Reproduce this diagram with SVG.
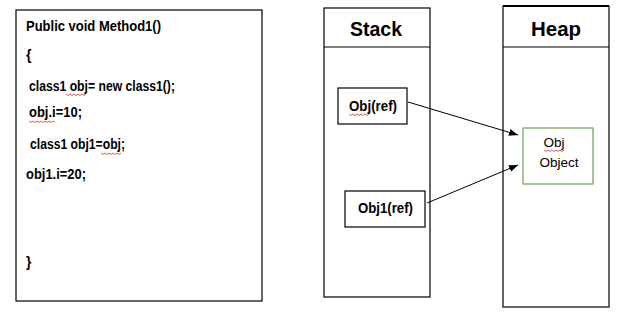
<svg xmlns="http://www.w3.org/2000/svg" width="635" height="320" viewBox="0 0 635 320">
<defs>
<style>
.box{fill:#fff;stroke:#000;stroke-width:1.2}
.code{font-family:"Liberation Sans","Open Sans",sans-serif;font-size:14px;font-weight:bold;fill:#000}
.title{font-family:"Liberation Sans","Open Sans",sans-serif;font-size:21px;font-weight:bold;fill:#000}
.plain{font-family:"Liberation Sans","Open Sans",sans-serif;font-size:13.5px;fill:#000}
.squig{fill:none;stroke:#c0392b;stroke-width:0.8}
.conn{stroke:#000;stroke-width:1;fill:none}
</style>
<marker id="arr" viewBox="0 0 10 10" refX="10" refY="5" markerWidth="9" markerHeight="9" orient="auto" markerUnits="userSpaceOnUse">
<path d="M0,1 L10,5 L0,9 z" fill="#000"/>
</marker>
</defs>
<rect width="635" height="320" fill="#fff"/>
<g id="code">
<rect class="box" x="16" y="10" width="246" height="291"/>
<text class="code" x="26" y="31" textLength="135" lengthAdjust="spacingAndGlyphs">Public void Method1()</text>
<text class="code" x="26" y="60">{</text>
<text class="code" x="29" y="91" textLength="146" lengthAdjust="spacingAndGlyphs">class1 obj= new class1();</text>
<text class="code" x="29" y="117" textLength="53" lengthAdjust="spacingAndGlyphs">obj.i=10;</text>
<text class="code" x="30" y="149" textLength="95" lengthAdjust="spacingAndGlyphs">class1 obj1=obj;</text>
<text class="code" x="26" y="179" textLength="60" lengthAdjust="spacingAndGlyphs">obj1.i=20;</text>
<text class="code" x="26" y="267">}</text>
<path class="squig" d="M66,94 l2,1.5 l2,-1.5 l2,1.5 l2,-1.5 l2,1.5 l2,-1.5 l2,1.5 l2,-1.5 l2,1.5 l2,-1.5"/>
<path class="squig" d="M29,121 l2,1.5 l2,-1.5 l2,1.5 l2,-1.5 l2,1.5 l2,-1.5 l2,1.5 l2,-1.5 l2,1.5 l2,-1.5 l2,1.5 l2,-1.5 l2,1.5"/>
<path class="squig" d="M101,153 l2,1.5 l2,-1.5 l2,1.5 l2,-1.5 l2,1.5 l2,-1.5 l2,1.5 l2,-1.5 l2,1.5 l2,-1.5"/>
</g>
<g id="stack">
<rect class="box" x="324" y="8" width="106" height="289"/>
<line class="box" x1="324" y1="47" x2="430" y2="47"/>
<text class="title" x="350" y="36" textLength="52" lengthAdjust="spacingAndGlyphs">Stack</text>
</g>
<g id="heap">
<rect class="box" x="503" y="6" width="106" height="301"/>
<line stroke="#000" stroke-width="2" x1="503" y1="6" x2="609" y2="6"/>
<line class="box" x1="503" y1="47" x2="609" y2="47"/>
<text class="title" x="531" y="36" textLength="50" lengthAdjust="spacingAndGlyphs">Heap</text>
</g>
<g id="objref">
<rect class="box" x="338" y="88" width="69" height="36"/>
<text class="code" x="349" y="111" textLength="48" lengthAdjust="spacingAndGlyphs">Obj(ref)</text>
<path class="squig" d="M349,114 l2,1.5 l2,-1.5 l2,1.5 l2,-1.5 l2,1.5 l2,-1.5 l2,1.5 l2,-1.5 l2,1.5 l2,-1.5"/>
</g>
<g id="obj1ref">
<rect class="box" x="345" y="191" width="80" height="36"/>
<text class="code" x="358" y="213" textLength="55" lengthAdjust="spacingAndGlyphs">Obj1(ref)</text>
</g>
<g id="object">
<rect x="523" y="128" width="70" height="56" fill="#fff" stroke="#70a050" stroke-width="1.2"/>
<text class="plain" x="554" y="147" text-anchor="middle">Obj</text>
<text class="plain" x="559" y="167" text-anchor="middle">Object</text>
<path class="squig" d="M544,150 l2,1.5 l2,-1.5 l2,1.5 l2,-1.5 l2,1.5 l2,-1.5 l2,1.5 l2,-1.5 l2,1.5 l2,-1.5"/>
</g>
<g id="connectors">
<line class="conn" x1="408" y1="102" x2="518" y2="135" marker-end="url(#arr)"/>
<line class="conn" x1="427" y1="203" x2="518" y2="165" marker-end="url(#arr)"/>
</g>
</svg>
